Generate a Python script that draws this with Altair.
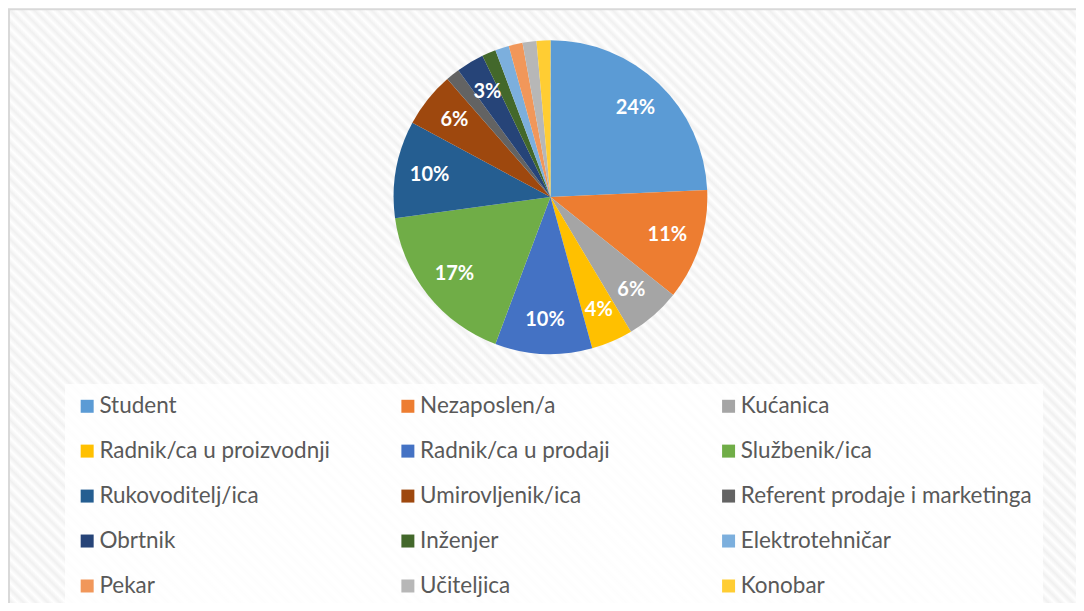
import altair as alt
import pandas as pd

categories = [
    "Student", "Nezaposlen/a", "Kućanica",
    "Radnik/ca u proizvodnji", "Radnik/ca u prodaji", "Službenik/ica",
    "Rukovoditelj/ica", "Umirovljenik/ica", "Referent prodaje i marketinga",
    "Obrtnik", "Inženjer", "Elektrotehničar",
    "Pekar", "Učiteljica", "Konobar",
]
counts = [17, 8, 4, 3, 7, 12, 7, 4, 1, 2, 1, 1, 1, 1, 1]
colors = [
    "#5B9BD5", "#ED7D31", "#A5A5A5",
    "#FFC000", "#4472C4", "#70AD47",
    "#255E91", "#9E480E", "#636363",
    "#264478", "#43682B", "#7CAFDD",
    "#F1975A", "#B7B7B7", "#FFCD33",
]

df = pd.DataFrame({
    "kategorija": categories,
    "broj": counts,
    "redoslijed": list(range(len(categories))),
})

# subtle diagonal hatch background
n_periods = 185
stops = []
for k in range(n_periods):
    stops.append(alt.GradientStop(offset=k / n_periods, color="#ffffff"))
    stops.append(alt.GradientStop(offset=(k + 0.5) / n_periods, color="#f0f0f0"))
stops.append(alt.GradientStop(offset=1.0, color="#ffffff"))

background = alt.Chart(pd.DataFrame({"a": [0]})).mark_rect(
    fill=alt.Gradient(gradient="linear", stops=stops, x1=0, y1=1, x2=1, y2=0),
    stroke="#d9d9d9",
    strokeWidth=2,
).encode(
    x=alt.value(-16), x2=alt.value(1100),
    y=alt.value(1), y2=alt.value(1117),
)

base = alt.Chart(df).transform_joinaggregate(
    ukupno="sum(broj)"
).transform_calculate(
    udio="datum.broj / datum.ukupno",
    oznaka="datum.broj / datum.ukupno >= 0.02 ? format(datum.broj / datum.ukupno, '.0%') : ''",
).encode(
    theta=alt.Theta("broj:Q", stack=True),
    order=alt.Order("redoslijed:Q"),
)

pie = base.mark_arc(outerRadius=157).encode(
    color=alt.Color(
        "kategorija:N",
        sort=None,
        scale=alt.Scale(domain=categories, range=colors),
        legend=alt.Legend(
            title=None,
            orient="none",
            legendX=40,
            legendY=376,
            direction="horizontal",
            columns=3,
            gridAlign="all",
            columnPadding=6,
            rowPadding=22,
            symbolType="square",
            symbolSize=169,
            symbolStrokeWidth=0,
            labelFont="Lato",
            labelFontSize=22.5,
            labelColor="#595959",
            labelOffset=1,
            labelLimit=400,
            fillColor="rgba(255,255,255,0.85)",
            padding=11,
        ),
    ),
)

labels = base.mark_text(
    radius=123, font="Lato", fontSize=20, fontWeight="bold", color="white"
).encode(text="oznaka:N")

chart = alt.layer(background, pie, labels).properties(
    width=1052,
    height=378,
    padding={"left": 17, "top": 0, "right": 0, "bottom": 217},
    autosize=alt.AutoSizeParams(type="none"),
    background="white",
).configure_view(stroke=None)

chart.save("out.html", embed_options={"renderer": "svg", "actions": False})
